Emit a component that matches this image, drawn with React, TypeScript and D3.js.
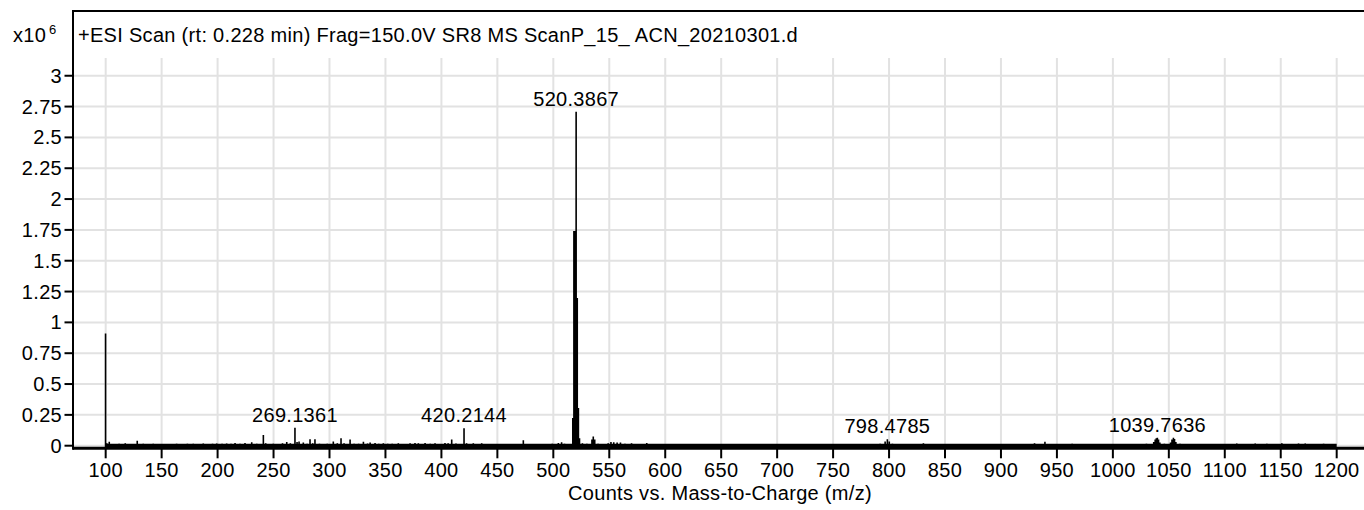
import React from "react";
import * as d3 from "d3";

// Mass spectrum: m/z and intensity (counts, x10^6)
const peakMz = [
  99.9, 101.0, 103.2, 107.5, 112, 117.5, 122, 128.2, 133.6, 138, 142.5, 147, 153, 158, 163.4, 168, 173,
  178.3, 183, 187.2, 192, 195.5, 199.2, 204, 208.1, 212, 215.6, 220, 224.5, 228, 230.5, 235, 240.9, 243,
  247, 249.8, 254, 258, 261.8, 265, 269.1361, 271, 272.8, 276.6, 280, 282.6, 285, 287, 291, 295, 298,
  303.4, 307, 310.3, 313, 318.4, 322, 326, 330.3, 334, 336.3, 340.7, 344, 348.1, 352, 356, 361.5, 366,
  372, 376.4, 379.4, 385.4, 390, 394.3, 398, 403.2, 406, 409.2, 413, 420.2144, 422.5, 428.5, 432, 436,
  440, 446, 452, 458, 465, 473.2, 480, 487, 493, 499, 504.5, 507.4, 510, 513, 517.4, 518.4, 519.4,
  520.3867, 521.39, 522.4, 523.4, 526, 530, 534.5, 535.7, 537, 540, 545, 549, 551.5, 554, 557, 560, 564,
  569.9, 575, 583.5, 590, 598, 607, 620, 633, 650, 668, 690, 712, 735, 760, 780, 792, 796.5, 798.4785,
  800.2, 803, 815, 830.7, 850, 870, 892, 910, 930, 939.3, 950, 963.6, 975, 990, 1005, 1020, 1030, 1036.5,
  1037.8, 1038.8, 1039.7636, 1040.8, 1042, 1046, 1051.5, 1052.8, 1054.1, 1055.1, 1056.3, 1060, 1070,
  1085, 1100, 1110.7, 1127.2, 1137.6, 1151, 1165.9, 1171.9, 1180, 1188.3, 1198,
];
const peakIntensity = [
  0.91, 0.02, 0.032, 0.012, 0.015, 0.02, 0.012, 0.04, 0.015, 0.01, 0.015, 0.012, 0.01, 0.012, 0.015, 0.012, 0.015,
  0.015, 0.012, 0.018, 0.012, 0.015, 0.018, 0.015, 0.018, 0.015, 0.022, 0.015, 0.022, 0.012, 0.028, 0.015, 0.087, 0.02,
  0.012, 0.015, 0.012, 0.02, 0.03, 0.02, 0.146, 0.03, 0.035, 0.025, 0.015, 0.052, 0.02, 0.052, 0.015, 0.012, 0.015,
  0.035, 0.02, 0.06, 0.02, 0.05, 0.015, 0.015, 0.032, 0.018, 0.025, 0.022, 0.015, 0.02, 0.015, 0.015, 0.02, 0.012,
  0.02, 0.022, 0.02, 0.022, 0.015, 0.02, 0.012, 0.022, 0.02, 0.05, 0.018, 0.141, 0.02, 0.02, 0.012, 0.02,
  0.012, 0.012, 0.012, 0.012, 0.012, 0.045, 0.012, 0.012, 0.012, 0.015, 0.022, 0.028, 0.015, 0.012, 0.224, 1.74, 1.74,
  2.709, 1.197, 0.305, 0.06, 0.02, 0.015, 0.05, 0.075, 0.05, 0.015, 0.012, 0.02, 0.03, 0.028, 0.025, 0.025, 0.015,
  0.02, 0.012, 0.022, 0.012, 0.012, 0.01, 0.012, 0.01, 0.01, 0.01, 0.01, 0.012, 0.01, 0.01, 0.01, 0.015, 0.035, 0.052,
  0.035, 0.015, 0.012, 0.02, 0.01, 0.012, 0.01, 0.01, 0.02, 0.032, 0.012, 0.015, 0.01, 0.012, 0.012, 0.012, 0.015, 0.03,
  0.05, 0.06, 0.065, 0.05, 0.025, 0.015, 0.025, 0.05, 0.065, 0.055, 0.03, 0.015, 0.012,
  0.012, 0.01, 0.018, 0.018, 0.015, 0.02, 0.018, 0.018, 0.012, 0.015, 0.012,
];

// Annotated peaks
const labelMz = [269.1361, 420.2144, 520.3867, 798.4785, 1039.7636];

// Continuous low-level baseline of the scan
const baselineSpan = [99.5, 1200];
const baselineLevel = 0.016;

// Axis ticks
const xTicks = d3.range(100, 1201, 50);
const yTicks = [0, 0.25, 0.5, 0.75, 1, 1.25, 1.5, 1.75, 2, 2.25, 2.5, 2.75, 3];
const yTickLabels = ["0", "0.25", "0.5", "0.75", "1", "1.25", "1.5", "1.75", "2", "2.25", "2.5", "2.75", "3"];

const titleText = "+ESI Scan (rt: 0.228 min) Frag=150.0V SR8 MS ScanP_15_ ACN_20210301.d";
const xAxisTitle = "Counts vs. Mass-to-Charge (m/z)";

const W = 1364;
const H = 510;
const left = 73;
const right = 1364;
const top = 11;
const titleBand = 58;
const axisY = 448.3;
const FONT = "'Liberation Sans', Arial, sans-serif";
const SPACING = 0.3;

export default function App() {
  const x = d3.scaleLinear().domain([70.8, 1224.4]).range([left, right]);
  const y = d3.scaleLinear().domain([0, 3.525]).range([445.7, top]);

  const baselineArea = d3
    .area<number>()
    .x((d) => x(d))
    .y0(axisY)
    .y1(y(baselineLevel))(baselineSpan);

  const sticks = d3.path();
  peakMz.forEach((mz, i) => {
    sticks.moveTo(x(mz), axisY);
    sticks.lineTo(x(mz), y(peakIntensity[i]));
  });

  return (
    <svg
      width={W}
      height={H}
      style={{ position: "absolute", left: 0, top: 0, background: "#fff" }}
      fontFamily={FONT}
      letterSpacing={SPACING}
    >
      {/* grid */}
      <g stroke="#e2e2e2" strokeWidth={2}>
        {yTicks.map((t) => (
          <line key={"gy" + t} x1={left} x2={right} y1={y(t)} y2={y(t)} />
        ))}
        {xTicks.map((t) => (
          <line key={"gx" + t} x1={x(t)} x2={x(t)} y1={titleBand} y2={axisY} />
        ))}
      </g>

      {/* spectrum */}
      <path d={baselineArea ?? ""} fill="#000" />
      <path d={sticks.toString()} stroke="#000" strokeWidth={1.6} fill="none" />

      {/* peak labels */}
      {labelMz.map((mz) => {
        const i = peakMz.indexOf(mz);
        return (
          <text
            key={"pl" + mz}
            x={x(mz)}
            y={y(peakIntensity[i]) - 6}
            textAnchor="middle"
            fontSize={20}
            fill="#000"
          >
            {mz.toFixed(4)}
          </text>
        );
      })}

      {/* frame */}
      <line x1={left} x2={right} y1={top} y2={top} stroke="#000" strokeWidth={2} />
      <line x1={left} x2={left} y1={top - 1} y2={axisY + 1.5} stroke="#000" strokeWidth={2} />
      <line x1={left} x2={right} y1={axisY} y2={axisY} stroke="#000" strokeWidth={3} />

      {/* y axis */}
      {yTicks.map((t, i) => (
        <g key={"yt" + t}>
          <line x1={64.5} x2={left} y1={y(t)} y2={y(t)} stroke="#000" strokeWidth={2} />
          <text x={62} y={y(t) + 7} textAnchor="end" fontSize={20} fill="#000">
            {yTickLabels[i]}
          </text>
        </g>
      ))}

      {/* x axis */}
      {xTicks.map((t) => (
        <g key={"xt" + t}>
          <line x1={x(t)} x2={x(t)} y1={axisY} y2={axisY + 10} stroke="#000" strokeWidth={2} />
          <text x={x(t)} y={477} textAnchor="middle" fontSize={20} fill="#000">
            {t}
          </text>
        </g>
      ))}
      <text x={720} y={500} textAnchor="middle" fontSize={20} fill="#000">
        {xAxisTitle}
      </text>

      {/* scale factor and scan title */}
      <text x={13} y={42} fontSize={20} fill="#000">
        x10
      </text>
      <text x={49} y={34} fontSize={13} fill="#000">
        6
      </text>
      <text x={78} y={42} fontSize={20} fill="#000">
        {titleText}
      </text>
    </svg>
  );
}
